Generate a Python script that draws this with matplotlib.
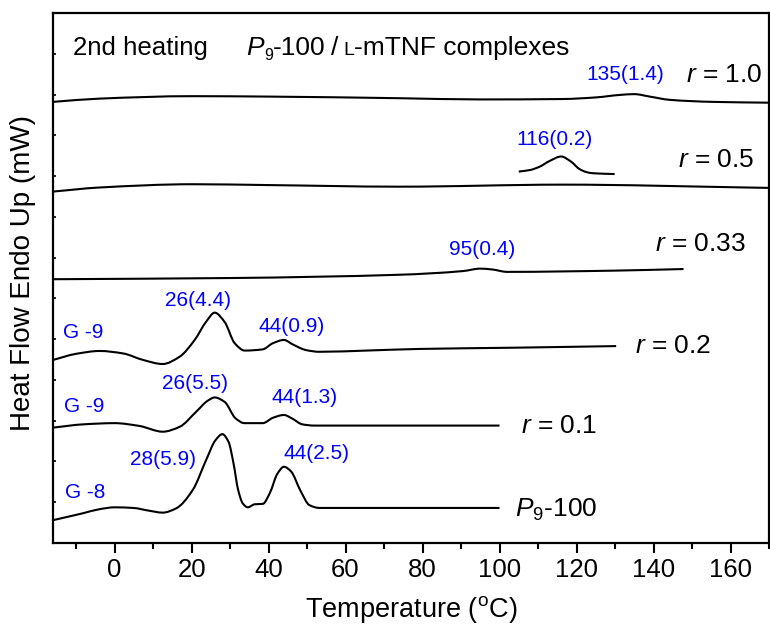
import numpy as np
import matplotlib
matplotlib.use("Agg")
import matplotlib.pyplot as plt
from matplotlib.path import Path
from matplotlib.patches import PathPatch
from matplotlib.ticker import MultipleLocator, FixedLocator, NullFormatter
import matplotlib.transforms as mtransforms

plt.rcParams["font.family"] = ["Liberation Sans", "DejaVu Sans"]
plt.rcParams["mathtext.fontset"] = "custom"
plt.rcParams["mathtext.rm"] = "Liberation Sans"
plt.rcParams["mathtext.it"] = "Liberation Sans:italic"
plt.rcParams["mathtext.bf"] = "Liberation Sans:bold"

# ---- DSC second-heating traces (temperature in degC, stacked heat flow) ----
t_p9 = [-16, -8.2, -3.9, 0, 4.8, 9.1, 12.5, 16.0, 20.3, 23.8, 26.2, 28.0, 29.6,
        30.9, 32.1, 33.3, 34.6, 36.4, 38.5, 40.3, 42.3, 44.0, 45.8, 48.3, 50.6,
        53.2, 70, 100]
h_p9 = [0.56, 0.73, 0.83, 0.875, 0.86, 0.79, 0.745, 0.85, 1.30, 2.04, 2.52, 2.67,
        2.48, 1.95, 1.30, 0.97, 0.875, 0.95, 0.96, 1.22, 1.70, 1.87, 1.76, 1.28,
        0.93, 0.86, 0.86, 0.86]

t_r01 = [-16, -8.2, 0, 6.5, 12.5, 16.9, 21.2, 24.2, 26.0, 28.6, 31.4, 33.7, 38.5,
         41.1, 44.0, 46.0, 48.8, 51.9, 70, 100]
h_r01 = [2.83, 2.91, 2.94, 2.87, 2.73, 2.85, 3.22, 3.49, 3.57, 3.46, 3.06, 2.94,
         2.94, 3.07, 3.14, 3.06, 2.91, 2.88, 2.88, 2.88]

t_r02 = [-16, -10.0, -3.9, 2.2, 7.4, 12.5, 16.9, 20.8, 23.8, 26.0, 28.6, 31.2,
         33.8, 38.5, 41.1, 44.0, 46.3, 49.8, 53.2, 65.4, 79.2, 103.5, 130.3]
h_r02 = [4.49, 4.64, 4.71, 4.65, 4.49, 4.39, 4.57, 4.98, 5.43, 5.65, 5.42, 4.90,
         4.72, 4.75, 4.90, 4.98, 4.87, 4.73, 4.69, 4.72, 4.76, 4.79, 4.83]

t_r033 = [-16, 30.7, 74.0, 90.5, 95.0, 98.0, 102.0, 129.4, 147.8]
h_r033 = [6.47, 6.50, 6.58, 6.67, 6.73, 6.71, 6.65, 6.68, 6.72]

t_r05 = [-16, -3.9, 20.3, 39.4, 74.0, 116.5, 164.1, 170]
h_r05 = [8.62, 8.72, 8.80, 8.78, 8.74, 8.79, 8.72, 8.71]

t_r05_peak = [105.0, 108.0, 110.4, 113.0, 116.0, 118.5, 120.8, 122.5, 124.2, 129.9]
h_r05_peak = [9.11, 9.15, 9.23, 9.37, 9.48, 9.36, 9.17, 9.10, 9.07, 9.05]

t_r10 = [-16, -3.9, 20.3, 39.4, 74.0, 94.8, 116.4, 125.1, 131.2, 135.0,
         139.0, 144.2, 155.4, 170]
h_r10 = [10.82, 10.90, 10.96, 10.95, 10.91, 10.88, 10.89, 10.93, 10.99,
         11.01, 10.95, 10.87, 10.82, 10.80]

traces = [(t_p9, h_p9), (t_r01, h_r01), (t_r02, h_r02), (t_r033, h_r033),
          (t_r05, h_r05), (t_r05_peak, h_r05_peak), (t_r10, h_r10)]

# ratio labels: (text, x, baseline y)
ratio_labels = [("$r$ = 1.0", 148.5, 11.31),
                ("$r$ = 0.5", 146.3, 9.23),
                ("$r$ = 0.33", 140.5, 7.17),
                ("$r$ = 0.2", 135.1, 4.65),
                ("$r$ = 0.1", 105.6, 2.71),
                ("$P_9$-100", 103.9, 0.645)]

# transition annotations: peak T (enthalpy) and glass transitions
peak_labels = [("135(1.4)", 122.5, 11.36),
               ("116(0.2)", 104.5, 9.75),
               ("95(0.4)", 87.0, 7.06),
               ("26(4.4)", 13.0, 5.81),
               ("44(0.9)", 37.5, 5.18),
               ("G -9", -13.4, 5.04),
               ("26(5.5)", 12.3, 3.77),
               ("44(1.3)", 40.7, 3.44),
               ("G -9", -13.2, 3.22),
               ("28(5.9)", 3.9, 1.91),
               ("44(2.5)", 43.9, 2.06),
               ("G -8", -13.0, 1.10)]

x_ticks = [0, 20, 40, 60, 80, 100, 120, 140, 160]


def smooth_path(x, y):
    """Monotone cubic (Fritsch-Carlson) Bezier path through the given points."""
    x = np.asarray(x, float)
    y = np.asarray(y, float)
    h = np.diff(x)
    delta = np.diff(y) / h
    n = len(x)
    d = np.zeros(n)
    for k in range(1, n - 1):
        if delta[k - 1] * delta[k] <= 0:
            d[k] = 0.0
        else:
            w1 = 2 * h[k] + h[k - 1]
            w2 = h[k] + 2 * h[k - 1]
            d[k] = (w1 + w2) / (w1 / delta[k - 1] + w2 / delta[k])
    d[0] = delta[0]
    d[-1] = delta[-1]
    verts = [(x[0], y[0])]
    codes = [Path.MOVETO]
    for k in range(n - 1):
        verts += [(x[k] + h[k] / 3, y[k] + d[k] * h[k] / 3),
                  (x[k + 1] - h[k] / 3, y[k + 1] - d[k + 1] * h[k] / 3),
                  (x[k + 1], y[k + 1])]
        codes += [Path.CURVE4] * 3
    return Path(verts, codes)


fig = plt.figure(figsize=(7.70, 6.26), dpi=100)
ax = fig.add_axes([53 / 770, 1 - 543 / 626, 716 / 770, 530 / 626])
ax.set_xlim(-16, 170)
ax.set_ylim(0, 13)

for tx, hy in traces:
    ax.add_patch(PathPatch(smooth_path(tx, hy), fill=False, ec="black",
                           lw=1.5, joinstyle="round"))

for s, x, y in ratio_labels:
    ax.text(x, y, s, fontsize=19, ha="left", va="baseline", color="black")

for s, x, y in peak_labels:
    ax.text(x, y, s, fontsize=15, ha="left", va="baseline", color="#0000ff")

ax.text(-10.9, 11.97, "2nd heating", fontsize=18.6, ha="left", va="baseline")

# sample description laid out piece by piece (italic P, subscript, small-cap L)
renderer = fig.canvas.get_renderer()
x0, y0 = ax.transData.transform((34.2, 11.97))
pt = fig.dpi / 72.0
pieces = [("P", 19, "italic", 0.0, 0.0),
          ("9", 11.5, "normal", 0.3, -3.8),
          ("-100", 19, "normal", 0.0, 0.0),
          ("/", 19, "normal", 3.5, 0.0),
          ("L", 14, "normal", 3.5, 0.0),
          ("-mTNF complexes", 19, "normal", 0.0, 0.0)]
for s, size, style, gap, dy in pieces:
    x0 += gap * pt
    t = ax.text(x0, y0 + dy * pt, s, fontsize=size, style=style, ha="left",
                va="baseline", transform=mtransforms.IdentityTransform())
    x0 = t.get_window_extent(renderer).x1

# axes styling
for sp in ax.spines.values():
    sp.set_linewidth(1.6)
ax.xaxis.set_major_locator(FixedLocator(x_ticks))
ax.xaxis.set_minor_locator(MultipleLocator(10))
ax.tick_params(axis="x", which="major", direction="out", length=7, width=1.5,
               labelsize=18.5, pad=4, top=False)
ax.tick_params(axis="x", which="minor", direction="out", length=4, width=1.5,
               top=False)
ax.yaxis.set_major_locator(MultipleLocator(1))
ax.yaxis.set_major_formatter(NullFormatter())
ax.tick_params(axis="y", which="major", direction="in", length=2, width=1.2,
               right=False)

ax.set_xlabel("Temperature ($^{\\mathrm{o}}$C)", fontsize=19.5)
ax.xaxis.set_label_coords(0.5, -0.097)
ax.set_ylabel("Heat Flow Endo Up (mW)", fontsize=20)
ax.yaxis.set_label_coords(-0.024, 0.509)

fig.savefig("out.png", dpi=100)
